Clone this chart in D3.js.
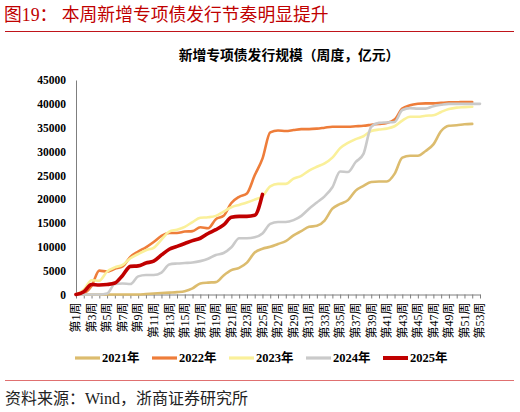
<!DOCTYPE html>
<html>
<head>
<meta charset="utf-8">
<script src="https://cdn.jsdelivr.net/npm/d3@7"></script>
<style>
  body { margin: 0; background: #fff; }
  svg { display: block; }
  .cn { font-family: "Liberation Serif", "Noto Sans CJK SC", serif; }
</style>
</head>
<body>
<div id="chart"></div>
<script>
// weekly cumulative issuance, 亿元
var weeks = d3.range(1, 54);
var tickWeeks = d3.range(1, 54, 2);
var yTicks = [0, 5000, 10000, 15000, 20000, 25000, 30000, 35000, 40000, 45000];
var seriesNames = ["2021年", "2022年", "2023年", "2024年", "2025年"];

var y2021 = [0, 0, 0, 0, 0, 0, 0, 0, 0, 100, 200, 300, 400, 500, 700, 1300, 2300, 2500, 2600, 4000,
  5100, 5600, 6700, 8800, 9600, 10000, 10600, 11200, 12400, 13300, 14200, 14400, 15500, 18000, 19000,
  19800, 21800, 22800, 23600, 23700, 23700, 25300, 28700, 29100, 29100, 30100, 31500, 34300, 35400,
  35500, 35700, 35800];
var y2022 = [0, 300, 1800, 5000, 4800, 5400, 5900, 7900, 9000, 9900, 11000, 12300, 12900, 12900, 13200,
  13300, 14100, 13900, 15800, 16500, 19200, 20500, 21200, 25000, 28500, 34000, 34400, 34300, 34500,
  34700, 34700, 34800, 35000, 35200, 35200, 35200, 35300, 35400, 35600, 35800, 36000, 36700, 39000,
  39700, 40000, 40100, 40100, 40200, 40300, 40300, 40400, 40400];
var y2023 = [0, 1000, 3000, 2900, 4800, 5700, 6200, 7600, 8500, 9300, 9800, 11500, 13200, 13600, 14200,
  15200, 16100, 16200, 16500, 17400, 18300, 18800, 19300, 19900, 20600, 22700, 23200, 23200, 24300,
  24900, 26000, 26800, 27500, 28700, 30700, 31800, 32600, 33200, 34300, 34600, 34800, 35300, 36500,
  37300, 37300, 37500, 37600, 38300, 38900, 39200, 39300, 39400];
var y2024 = [0, 0, 0, 0, 200, 2200, 2300, 2200, 3800, 4100, 4100, 4600, 6300, 6500, 6600, 6700, 7000,
  7500, 8300, 8700, 9900, 11800, 11800, 12000, 12800, 14800, 15200, 15200, 15600, 16500, 18000, 19300,
  20600, 22500, 25800, 25700, 27800, 29500, 35200, 36000, 36100, 36200, 38700, 39100, 39000, 39000,
  39500, 39800, 40000, 40000, 40000, 40000, 40000];
var y2025 = [0, 600, 2100, 2000, 2100, 2400, 4000, 5900, 6000, 6600, 7000, 8300, 9500, 10100, 10700,
  11300, 11800, 12800, 13600, 14600, 16200, 16400, 16400, 16600, 21000];

var seriesValues = [y2021, y2022, y2023, y2024, y2025];
var colors = ["#dcbc6e", "#ee7d3a", "#faf09a", "#cacaca", "#c00000"];
var widths = [2.6, 2.6, 2.6, 2.6, 3.6];

var W = 520, H = 412;
var margin = { top: 80, right: 40, bottom: 117, left: 76 };

var svg = d3.select("#chart").append("svg")
    .attr("width", W)
    .attr("height", H);

// header
svg.append("text")
    .attr("class", "cn")
    .attr("x", 4)
    .attr("y", 21)
    .attr("fill", "#c00000")
    .attr("font-size", "17.8px")
    .text("图19：  本周新增专项债发行节奏明显提升");
svg.append("line")
    .attr("x1", 5).attr("x2", 514)
    .attr("y1", 31.5).attr("y2", 31.5)
    .attr("stroke", "#c0141a")
    .attr("stroke-width", 1);

svg.append("text")
    .attr("class", "cn")
    .attr("x", 289)
    .attr("y", 60)
    .attr("text-anchor", "middle")
    .attr("font-size", "13.8px")
    .attr("font-weight", "bold")
    .text("新增专项债发行规模（周度，亿元）");

// scales
var x = d3.scaleLinear()
    .domain([1, 53])
    .range([margin.left, W - margin.right]);
var y = d3.scaleLinear()
    .domain([0, 45000])
    .range([H - margin.bottom - 0.5, margin.top]);

// y axis
var yAxis = d3.axisLeft(y)
    .tickValues(yTicks)
    .tickSize(0)
    .tickPadding(10)
    .tickFormat(d3.format("d"));
var gy = svg.append("g")
    .attr("transform", "translate(" + margin.left + ",0)")
    .call(yAxis);
gy.select(".domain").attr("stroke", "#7f7f7f");
gy.selectAll(".tick text")
    .attr("font-family", "Liberation Serif, serif")
    .attr("font-weight", "bold")
    .attr("font-size", "11.5px")
    .attr("fill", "#000");

// x axis
var xAxis = d3.axisBottom(x)
    .tickValues(weeks)
    .tickSize(4)
    .tickSizeOuter(0)
    .tickFormat("");
var gx = svg.append("g")
    .attr("transform", "translate(0," + y(0) + ")")
    .call(xAxis);
gx.select(".domain").attr("stroke", "#7f7f7f");
gx.selectAll(".tick line").attr("stroke", "#7f7f7f");

svg.append("g").selectAll("text")
    .data(tickWeeks)
    .enter().append("text")
    .attr("class", "cn")
    .attr("transform", d => "translate(" + x(d) + "," + (y(0) + 8) + ") rotate(-90)")
    .attr("text-anchor", "end")
    .attr("dy", "0.36em")
    .attr("font-size", "12px")
    .attr("fill", "#000")
    .text(d => "第" + d + "周");

// lines
var line = d3.line()
    .x((d, i) => x(weeks[i]))
    .y(d => y(d))
    .curve(d3.curveMonotoneX);

svg.append("g").selectAll("path")
    .data(seriesValues)
    .enter().append("path")
    .attr("d", d => line(d))
    .attr("fill", "none")
    .attr("stroke", (d, i) => colors[i])
    .attr("stroke-width", (d, i) => widths[i])
    .attr("stroke-linejoin", "round")
    .attr("stroke-linecap", "round");

// legend
var legend = svg.append("g").selectAll("g")
    .data(seriesNames)
    .enter().append("g")
    .attr("transform", (d, i) => "translate(" + (75 + i * 77) + ",358)");
legend.append("line")
    .attr("x1", 0).attr("x2", 25)
    .attr("stroke", (d, i) => colors[i])
    .attr("stroke-width", (d, i) => i == 4 ? 4 : 3.2);
legend.append("text")
    .attr("class", "cn")
    .attr("x", 27)
    .attr("dy", "0.35em")
    .attr("font-size", "12.5px")
    .attr("font-weight", "bold")
    .text(d => d);

// footer
svg.append("line")
    .attr("x1", 5).attr("x2", 514)
    .attr("y1", 380.5).attr("y2", 380.5)
    .attr("stroke", "#e07070")
    .attr("stroke-width", 1.2);
svg.append("text")
    .attr("class", "cn")
    .attr("x", 5)
    .attr("y", 404)
    .attr("font-size", "16px")
    .attr("fill", "#222")
    .text("资料来源：Wind，浙商证券研究所");
</script>
</body>
</html>
